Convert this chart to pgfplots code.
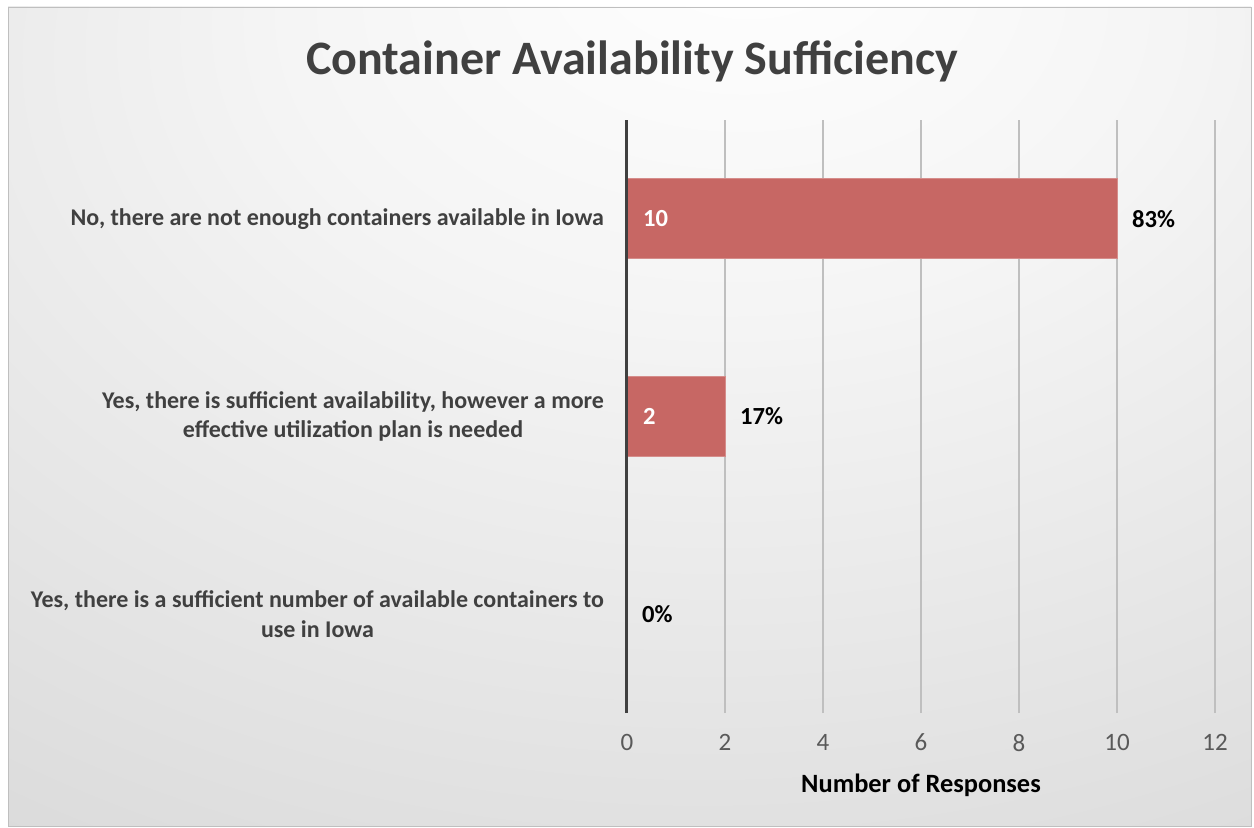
\documentclass[border=0pt]{standalone}
\usepackage{fontspec}
\setmainfont{Carlito}
\usepackage{pgfplots}
\pgfplotsset{compat=1.18}
\definecolor{barred}{HTML}{C76764}
\definecolor{txtgray}{HTML}{404040}
\definecolor{tickgray}{HTML}{595959}
\definecolor{gridgray}{HTML}{BFBFBF}
\pgfdeclareradialshading{bgshade}{\pgfpoint{5bp}{30bp}}{color(0bp)=(white); color(18bp)=(white!96!black); color(55bp)=(white!84!black); color(100bp)=(white!76!black)}

\begin{document}
\begin{tikzpicture}[x=1pt,y=1pt]
\path[use as bounding box] (0,0) rectangle (627,413.5);
\fill[white] (0,0) rectangle (627,413.5);
\shade[shading=bgshade] (4,0.5) rectangle (625.5,410);
\draw[gray!50] (4,0.5) rectangle (625.5,410);
\node[font=\fontsize{24}{28}\selectfont\bfseries, text=txtgray] at (316,383) {Container Availability Sufficiency};
\begin{axis}[
  at={(313.5pt,57pt)}, anchor=south west, scale only axis,
  width=294pt, height=296.5pt,
  xmin=0, xmax=12, ymin=-0.5, ymax=2.5,
  xtick={0,2,...,12}, ytick={0,1,2},
  yticklabels={{Yes, there is a sufficient number of available containers to\\use in Iowa},
               {Yes, there is sufficient availability, however a more\\effective utilization plan is needed},
               {No, there are not enough containers available in Iowa}},
  axis line style={draw=none},
  major tick length=0pt,
  xmajorgrids, grid style={gridgray, line width=0.75pt},
  yticklabel style={align=center, font=\fontsize{12}{14.6}\selectfont\bfseries, text=txtgray, xshift=-8pt},
  xticklabel style={font=\fontsize{12.5}{14}\selectfont, text=tickgray, yshift=-7pt},
  /pgf/number format/assume math mode=true,
  xlabel={Number of Responses},
  xlabel style={at={(axis description cs:0.5,0)}, anchor=center, yshift=-36pt,
    font=\fontsize{13.2}{15}\selectfont\bfseries, text=black},
  clip=false,
]
\addplot[xbar, bar width=40pt, fill=barred, draw=barred!75!white,
  nodes near coords, point meta=explicit symbolic,
  nodes near coords style={font=\fontsize{12.3}{14}\selectfont\bfseries, text=black, anchor=west, xshift=4pt}]
  coordinates {(0,0) [0\%] (2,1) [17\%] (10,2) [83\%]};
\addplot[only marks, mark=none,
  nodes near coords, point meta=explicit symbolic,
  nodes near coords style={font=\fontsize{12.3}{14}\selectfont\bfseries, text=white, anchor=west, xshift=4.5pt}]
  coordinates {(0,2) [10] (0,1) [2]};
\draw[txtgray, line width=1.5pt] (axis cs:0,-0.5) -- (axis cs:0,2.5);
\end{axis}
\end{tikzpicture}
\end{document}
